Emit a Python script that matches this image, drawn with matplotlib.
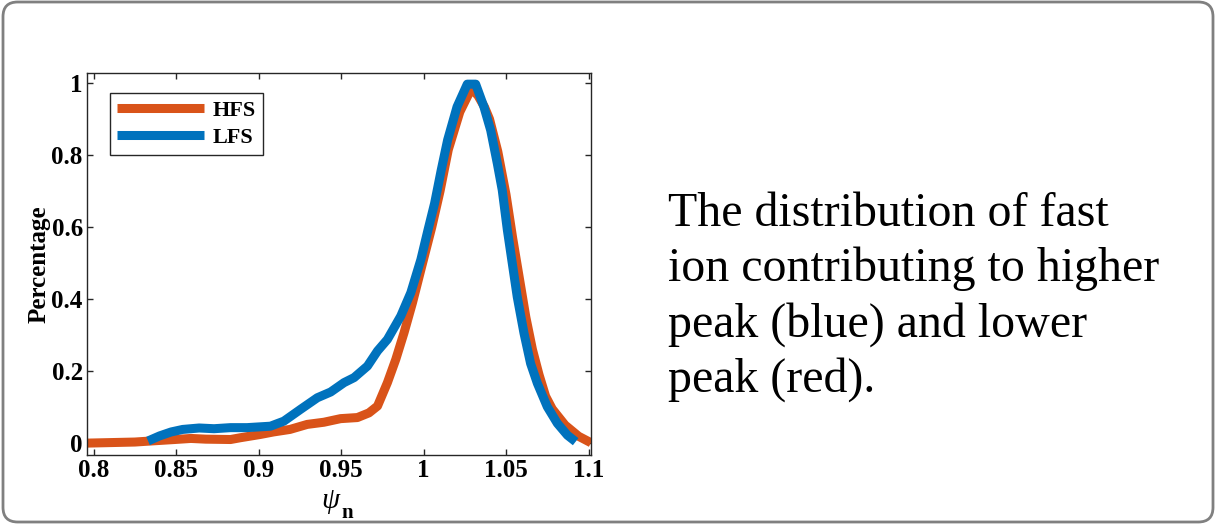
import matplotlib.pyplot as plt
from matplotlib.patches import FancyBboxPatch

plt.rcParams['font.family'] = 'Liberation Serif'
plt.rcParams['mathtext.fontset'] = 'custom'
plt.rcParams['mathtext.rm'] = 'Liberation Serif'
plt.rcParams['mathtext.it'] = 'Liberation Serif:italic'
plt.rcParams['mathtext.bf'] = 'Liberation Serif:bold'

# HFS (red) curve
hfs_x = [0.796, 0.825, 0.835, 0.849, 0.859, 0.868, 0.883, 0.889, 0.901, 0.909,
         0.919, 0.9295, 0.9396, 0.9497, 0.9599, 0.9669, 0.9721, 0.9781, 0.9832,
         0.9882, 0.9933, 0.9984, 1.005, 1.010, 1.015, 1.022, 1.029, 1.033,
         1.037, 1.040, 1.045, 1.050, 1.054, 1.058, 1.062, 1.066, 1.070, 1.074,
         1.078, 1.0858, 1.094, 1.1015]
hfs_y = [0.0, 0.003, 0.006, 0.010, 0.013, 0.011, 0.010, 0.015, 0.024, 0.031,
         0.038, 0.052, 0.058, 0.068, 0.071, 0.084, 0.103, 0.168, 0.233,
         0.307, 0.390, 0.482, 0.600, 0.700, 0.815, 0.920, 0.985, 0.965,
         0.933, 0.900, 0.810, 0.690, 0.570, 0.460, 0.350, 0.260, 0.190, 0.130,
         0.095, 0.050, 0.019, 0.001]

# LFS (blue) curve
lfs_x = [0.833, 0.840, 0.847, 0.854, 0.864, 0.873, 0.883, 0.893, 0.9072, 0.9153,
         0.9255, 0.9356, 0.9437, 0.9518, 0.9579, 0.9660, 0.9721, 0.9781, 0.9862,
         0.9923, 0.9984, 1.0027, 1.0067, 1.0107, 1.0146, 1.0203, 1.0265, 1.0316,
         1.0366, 1.0407, 1.0447, 1.0477, 1.0508, 1.0538, 1.0568, 1.0609, 1.0649,
         1.0690, 1.0750, 1.0811, 1.0872, 1.0922]
lfs_y = [0.006, 0.020, 0.031, 0.038, 0.042, 0.040, 0.043, 0.043, 0.047, 0.061,
         0.094, 0.126, 0.142, 0.168, 0.182, 0.214, 0.256, 0.288, 0.353,
         0.418, 0.510, 0.592, 0.666, 0.758, 0.842, 0.934, 0.997, 0.997,
         0.934, 0.869, 0.777, 0.703, 0.592, 0.499, 0.406, 0.305, 0.221,
         0.166, 0.101, 0.055, 0.022, 0.004]

x_ticks = [0.8, 0.85, 0.9, 0.95, 1.0, 1.05, 1.1]
x_labels = ['0.8', '0.85', '0.9', '0.95', '1', '1.05', '1.1']
y_ticks = [0, 0.2, 0.4, 0.6, 0.8, 1.0]
y_labels = ['0', '0.2', '0.4', '0.6', '0.8', '1']

caption = ('The distribution of fast\nion contributing to higher\n'
           'peak (blue) and lower\npeak (red).')

fig = plt.figure(figsize=(12.23, 5.27), dpi=100)

# rounded frame around the slide panel
W, H = 1223, 527
frame = FancyBboxPatch((3 / W, 5 / H), 1210 / W, 520 / H,
                       boxstyle='round,pad=0,rounding_size=0.012',
                       transform=fig.transFigure, facecolor='none',
                       edgecolor='#808080', linewidth=2.0, mutation_aspect=W / H,
                       zorder=-1)
fig.patches.append(frame)

ax = fig.add_axes([87 / W, 1 - 455 / H, 504 / W, 382 / H])
ax.plot(hfs_x, hfs_y, color='#D95319', lw=6.5, label='HFS', solid_capstyle='butt')
ax.plot(lfs_x, lfs_y, color='#0072BD', lw=6.5, label='LFS', solid_capstyle='butt')

ax.set_xlim(0.796, 1.1015)
ax.set_ylim(-0.033, 1.028)
ax.set_xticks(x_ticks)
ax.set_xticklabels(x_labels)
ax.set_yticks(y_ticks)
ax.set_yticklabels(y_labels)
ax.tick_params(direction='in', top=True, right=True, length=4, width=1,
               color='#262626', labelsize=18, pad=3)
for lab in ax.get_xticklabels() + ax.get_yticklabels():
    lab.set_fontweight('bold')
for sp in ax.spines.values():
    sp.set_color('#262626')
    sp.set_linewidth(1)

ax.set_ylabel('Percentage', fontsize=18, fontweight='bold')
ax.yaxis.set_label_coords(-0.072, 0.5)

# x label: italic psi with a bold, strongly lowered subscript n
fig.text(331 / W, 1 - 508 / H, r'$\psi$', fontsize=21, ha='center', va='baseline')
fig.text(341 / W, 1 - 518 / H, 'n', fontsize=15, fontweight='bold',
         ha='left', va='baseline')

leg = ax.legend(loc='upper left', bbox_to_anchor=(0.0456, 0.948), borderaxespad=0,
                prop={'weight': 'bold', 'size': 16}, handlelength=3.9,
                handletextpad=0.4, labelspacing=0.28, borderpad=0.33,
                fancybox=False, framealpha=1)
leg.get_frame().set_edgecolor('#262626')
leg.get_frame().set_linewidth(1)

fig.text(668 / W, 1 - 192 / H, caption, fontsize=34.5, va='top', ha='left',
         linespacing=1.31, color='black')

fig.savefig('out.png', dpi=100)
